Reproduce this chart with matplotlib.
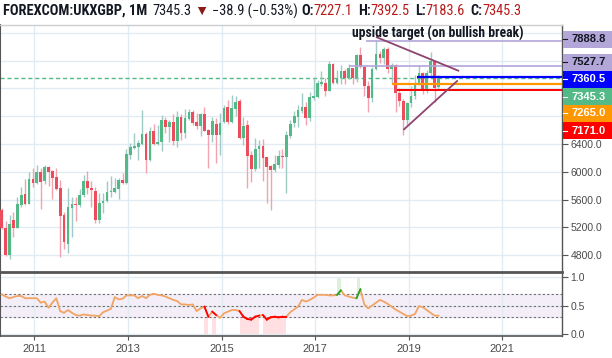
import numpy as np
import pandas as pd
import matplotlib.pyplot as plt
from matplotlib.patches import Rectangle
from matplotlib.lines import Line2D

NARROW = ['Roboto Condensed', 'Open Sans Condensed', 'Liberation Sans Narrow',
          'DejaVu Sans Condensed', 'Liberation Sans', 'DejaVu Sans']
AXFONT = ['Liberation Sans', 'DejaVu Sans']

# monthly candles, May 2010 .. Sep 2019
months = pd.period_range('2010-05', '2019-09', freq='M')

opens = [5450, 5187, 4800, 5300, 5196, 5527, 5680, 5537,
         5896, 5844, 6002, 5868, 6069, 6010, 5921, 5762, 5378, 4956, 5484, 5537,
         5527, 5661, 5868, 5768, 5724, 5307, 5547, 5585, 5710, 5715, 5753, 5882,
         5844, 6242, 6338, 6352, 6400, 6544, 6170, 6587, 6400, 6429, 6746, 6650,
         6717, 6448, 6784, 6563, 6760, 6856, 6717, 6664, 6827, 6602, 6530, 6683,
         6530, 6717, 6933, 6717, 6904, 7019, 6487, 6674, 6242, 6041, 6328, 6371,
         6213, 6084, 6026, 6098, 6228, 6218, 6516, 6707, 6794, 6880, 6928, 6779,
         7067, 7082, 7264, 7278, 7168, 7546, 7278, 7345, 7450, 7354, 7494, 7345,
         7680, 7510, 7232, 7057, 7480, 7700, 7640, 7760, 7480, 7530, 7140, 7020,
         6740, 6990, 7090, 7260, 7418, 7162, 7426, 7587, 7227.1]
highs = [5480, 5292, 5378, 5422, 5633, 5781, 5901, 6002,
         6055, 6103, 6055, 6103, 6084, 6030, 6055, 5882, 5426, 5762, 5633, 5642,
         5757, 5954, 6011, 5873, 5780, 5700, 5700, 5868, 5940, 5916, 5916, 5980,
         6329, 6410, 6554, 6458, 6890, 6578, 6640, 6683, 6674, 6818, 6784, 6746,
         6832, 6875, 6832, 6899, 6904, 6890, 6842, 6842, 6938, 6620, 6794, 6770,
         6842, 6962, 7033, 7105, 7091, 7043, 6794, 6746, 6300, 6487, 6458, 6472,
         6218, 6093, 6242, 6320, 6330, 6580, 6740, 6870, 6960, 7130, 7000, 7150,
         7350, 7320, 7450, 7350, 7600, 7560, 7470, 7530, 7480, 7550, 7500, 7700,
         7792, 7540, 7300, 7510, 7890, 7740, 7790, 7790, 7560, 7550, 7200, 7050,
         7000, 7230, 7390, 7530, 7440, 7460, 7730, 7600, 7392.5]
lows = [5180, 4790, 4745, 5067, 5190, 5500, 5518, 5530,
        5786, 5830, 5470, 5825, 5800, 5614, 5738, 4769, 4884, 4837, 5067, 5287,
        5500, 5640, 5680, 5498, 5260, 5260, 5412, 5560, 5643, 5700, 5604, 5830,
        5830, 6185, 6330, 6170, 6390, 5988, 6150, 6390, 6380, 6305, 6560, 6434,
        6386, 6362, 6458, 6482, 6740, 6674, 6616, 6520, 6580, 6060, 6434, 6132,
        6242, 6698, 6688, 6707, 6808, 6472, 6386, 5772, 5858, 6012, 6050, 5873,
        5556, 5451, 6002, 6050, 6060, 5691, 6490, 6640, 6650, 6850, 6670, 6730,
        7040, 7060, 7240, 7090, 7160, 7270, 7260, 7270, 7260, 7340, 7260, 7290,
        7500, 7090, 6867, 7010, 7460, 7570, 7550, 7420, 7270, 6860, 6950, 6536,
        6680, 6930, 7050, 7250, 7120, 7140, 7370, 7000, 7183.6]
closes = [5187, 4800, 5244, 5196, 5537, 5666, 5537, 5896,
          5844, 6002, 5858, 6069, 6002, 5916, 5748, 5364, 4995, 5494, 5537, 5522,
          5666, 5868, 5768, 5738, 5307, 5547, 5585, 5710, 5724, 5772, 5882, 5844,
          6257, 6352, 6372, 6410, 6544, 6170, 6587, 6400, 6429, 6746, 6650, 6722,
          6448, 6789, 6563, 6770, 6856, 6707, 6664, 6827, 6592, 6530, 6731, 6530,
          6707, 6913, 6717, 6913, 7005, 6487, 6659, 6228, 6041, 6328, 6371, 6199,
          6069, 6026, 6113, 6228, 6218, 6530, 6688, 6803, 6890, 6928, 6779, 7077,
          7091, 7278, 7293, 7168, 7546, 7278, 7345, 7450, 7354, 7494, 7345, 7680,
          7510, 7232, 7057, 7480, 7700, 7640, 7760, 7480, 7530, 7140, 7020, 6740,
          6990, 7090, 7260, 7418, 7162, 7426, 7587, 7207, 7345.3]

# lower pane oscillator (0..1)
osc = [0.70, 0.66, 0.63, 0.65, 0.67, 0.67, 0.63, 0.63,
       0.63, 0.63, 0.55, 0.57, 0.46, 0.55, 0.63, 0.40, 0.37, 0.42, 0.37, 0.33,
       0.32, 0.34, 0.33, 0.32, 0.32, 0.31, 0.38, 0.41, 0.44, 0.65, 0.61, 0.62,
       0.68, 0.68, 0.68, 0.63, 0.67, 0.63, 0.69, 0.71, 0.69, 0.68, 0.66, 0.63,
       0.60, 0.58, 0.52, 0.52, 0.51, 0.52, 0.40, 0.45, 0.48, 0.30, 0.39, 0.33,
       0.28, 0.36, 0.39, 0.42, 0.42, 0.40, 0.30, 0.26, 0.25, 0.30, 0.32, 0.33,
       0.25, 0.29, 0.30, 0.29, 0.30, 0.30, 0.38, 0.43, 0.48, 0.60, 0.57, 0.60,
       0.64, 0.69, 0.69, 0.69, 0.68, 0.68, 0.69, 0.77, 0.68, 0.66, 0.64, 0.63,
       0.79, 0.52, 0.45, 0.50, 0.55, 0.60, 0.57, 0.53, 0.48, 0.43, 0.39, 0.35,
       0.31, 0.32, 0.35, 0.49, 0.47, 0.42, 0.37, 0.32, 0.32]
oversold = [52, 54, 61, 62, 63, 64, 65, 67, 68, 69, 70, 71, 72]
overbought = [86, 91]

# drawn levels (price, first bar index, colour)
level_prices = [7888.8, 7527.7, 7360.5, 7265.0, 7171.0]
level_starts = [93.5, 89, 106.5, 100, 101.5]
level_colors = ['#b3a6d9', '#b3a6d9', '#0000ff', '#ff9800', '#ff0000']
level_widths = [1.2, 1.2, 1.6, 1.6, 1.4]

trend_upper = ([96.2, 117.1], [7935, 7455])
trend_lower = ([103.2, 116.8], [6612, 7306])

# price scale labels on the right
tag_values = [7888.8, 7527.7, 7360.5, 7345.3, 7265.0, 7171.0]
tag_bg = ['#b3a6d9', '#b3a6d9', '#0000ff', '#53b987', '#ff9800', '#ff0000']
tag_fg = ['#131722', '#131722', 'white', 'white', 'white', 'white']
tag_ypix = [39, 62, 79, 97, 113.5, 130.5]

price_ticks = np.arange(4800, 8001, 400)
hidden_ticks = [6800, 7200, 7600, 8000]   # sit under the price tags
W, H = 612, 358

x = np.arange(len(closes))
o = np.array(opens); c = np.array(closes)
up = c >= o
body_col = np.where(up, '#53b987', '#eb4d5c')
wick_col = np.where(up, '#9fcac6', '#f3a3ad')

fig = plt.figure(figsize=(W / 100, H / 100), dpi=100)
ax = fig.add_axes([0, 1 - 271 / H, 562 / W, 246 / H])
ax2 = fig.add_axes([0, 1 - 336 / H, 562 / W, 64 / H], sharex=ax)

grid_col = '#e1ecf2'
for a in (ax, ax2):
    a.set_axisbelow(True)
    a.grid(True, color=grid_col, lw=1)
    a.yaxis.tick_right()
    a.tick_params(axis='y', direction='out', length=4, width=0.8, color='#555555',
                  labelsize=7.5, labelcolor='#4a4a4a', pad=2)

# candles
ax.vlines(x, lows, highs, colors=wick_col, lw=1, zorder=2)
ax.bar(x, np.maximum(np.abs(c - o), 10), bottom=np.minimum(o, c), width=0.7,
       color=body_col, linewidth=0, zorder=3)

ax.axhline(closes[-1], color='#53b987', lw=1, ls=(0, (3, 2)), zorder=1)

xmax = 143.7
for p, s, col, lw in zip(level_prices, level_starts, level_colors, level_widths):
    ax.hlines(p, s, xmax, color=col, lw=lw, zorder=4)

ax.plot(*trend_upper, color='#8e4470', lw=1.3, zorder=5)
ax.plot(*trend_lower, color='#8e4470', lw=1.3, zorder=5)

ax.set_xlim(-0.44, xmax)
ax.set_ylim(4573, 8112)
ax.set_yticks(price_ticks)
ax.set_yticklabels(['' if t in hidden_ticks else '%.1f' % t for t in price_ticks],
                   family=AXFONT)

all_months = pd.period_range('2010-05', '2022-04', freq='M')
year_pos = [i + 0.4 for i, m in enumerate(all_months) if m.month == 1 and m.year % 2 == 1]
year_lab = [str(m.year) for m in all_months if m.month == 1 and m.year % 2 == 1]
ax.set_xticks(year_pos)
ax.tick_params(axis='x', length=0, labelbottom=False)

ax.spines['left'].set_color('#555555'); ax.spines['left'].set_linewidth(1.5)
ax.spines['right'].set_color('#555555'); ax.spines['right'].set_linewidth(1)
ax.spines['top'].set_color('#cccccc'); ax.spines['top'].set_linewidth(1)
ax.spines['bottom'].set_visible(False)

# oscillator pane
ax2.axhspan(0.3, 0.7, color='#f4eef9', zorder=0)
for i in oversold:
    ax2.bar(i + 0.5, 0.3, width=1, bottom=0, color='#ffdfe1', linewidth=0, zorder=0.5)
for i in overbought:
    ax2.bar(i + 0.5, 0.3, width=1, bottom=0.7, color='#dcf0dc', linewidth=0, zorder=0.5)
for lvl in (0.3, 0.5, 0.7):
    ax2.axhline(lvl, color='#6f6f6f', lw=0.8, ls=(0, (2, 2)), zorder=1)
ax2.plot(x, osc, color='#f2a463', lw=1.3, zorder=3)
for i in oversold:
    ax2.plot(x[i:i + 2], osc[i:i + 2], color='#ff0000', lw=1.3, zorder=4)
for i in overbought:
    ax2.plot(x[i:i + 2], osc[i:i + 2], color='#22a822', lw=1.3, zorder=4)
ax2.set_ylim(-0.043, 1.097)
ax2.set_yticks([0, 0.5, 1.0])
ax2.set_yticklabels(['0.0', '0.5', '1.0'], family=AXFONT)
ax2.set_xticks(year_pos)
ax2.set_xticklabels(year_lab, family=AXFONT)
ax2.tick_params(axis='x', direction='out', length=3, color='#555555',
                labelsize=8, labelcolor='#4a4a4a', pad=3)
for side, lw in (('top', 2), ('bottom', 1.2), ('left', 1.5), ('right', 1)):
    ax2.spines[side].set_color('#555555')
    ax2.spines[side].set_linewidth(lw)

# price tags over the right scale
for v, bg, fg, yp in zip(tag_values, tag_bg, tag_fg, tag_ypix):
    y0 = 1 - (yp + 8.5) / H
    fig.patches.append(Rectangle((563 / W, y0), 49 / W, 17 / H, transform=fig.transFigure,
                                 facecolor=bg, edgecolor='none', zorder=10))
    fig.lines.append(Line2D([563 / W, 567 / W], [1 - yp / H] * 2, transform=fig.transFigure,
                            color=fg, lw=0.8, zorder=11))
    fig.text(571 / W, 1 - yp / H, '%.1f' % v, color=fg, fontsize=8, fontweight='bold',
             family=AXFONT, va='center', ha='left', zorder=12)

fig.canvas.draw()
r = fig.canvas.get_renderer()

# annotation, sized to span the same width as in the chart
note = ax.text(111.9, 7997, 'upside target (on bullish break)', ha='center', va='center',
               fontsize=10, fontweight='bold', family=NARROW, color='#131722', zorder=6)
nw = note.get_window_extent(renderer=r).width
note.set_fontsize(10 * min(1.0, 172 / nw))

# header line
title_parts = [('FOREXCOM:UKXGBP, 1M', '#131722', 'bold', 5),
               ('7345.3', '#131722', 'normal', 3),
               ('\u25bc', '#8b1a1a', 'normal', 3),
               ('\u221238.9 (\u22120.53%)', '#131722', 'normal', 4),
               ('O:', '#131722', 'bold', 0), ('7227.1', '#b71c1c', 'normal', 5),
               ('H:', '#131722', 'bold', 0), ('7392.5', '#b71c1c', 'normal', 5),
               ('L:', '#131722', 'bold', 0), ('7183.6', '#b71c1c', 'normal', 5),
               ('C:', '#131722', 'bold', 0), ('7345.3', '#b71c1c', 'normal', 0)]


def draw_header(size):
    xp = 3
    made = []
    for s, col, wt, gap in title_parts:
        t = fig.text(xp / W, 1 - 11 / H, s, color=col, fontweight=wt, fontsize=size,
                     family=NARROW, va='center', ha='left')
        made.append(t)
        xp = t.get_window_extent(renderer=r).x1 + gap
    return made, xp


size = 10.5
made, end = draw_header(size)
if end > 525:
    for t in made:
        t.remove()
    size = size * (525 - 3 - 28) / (end - 3 - 28)
    made, end = draw_header(size)

fig.savefig('out.png', dpi=100)
